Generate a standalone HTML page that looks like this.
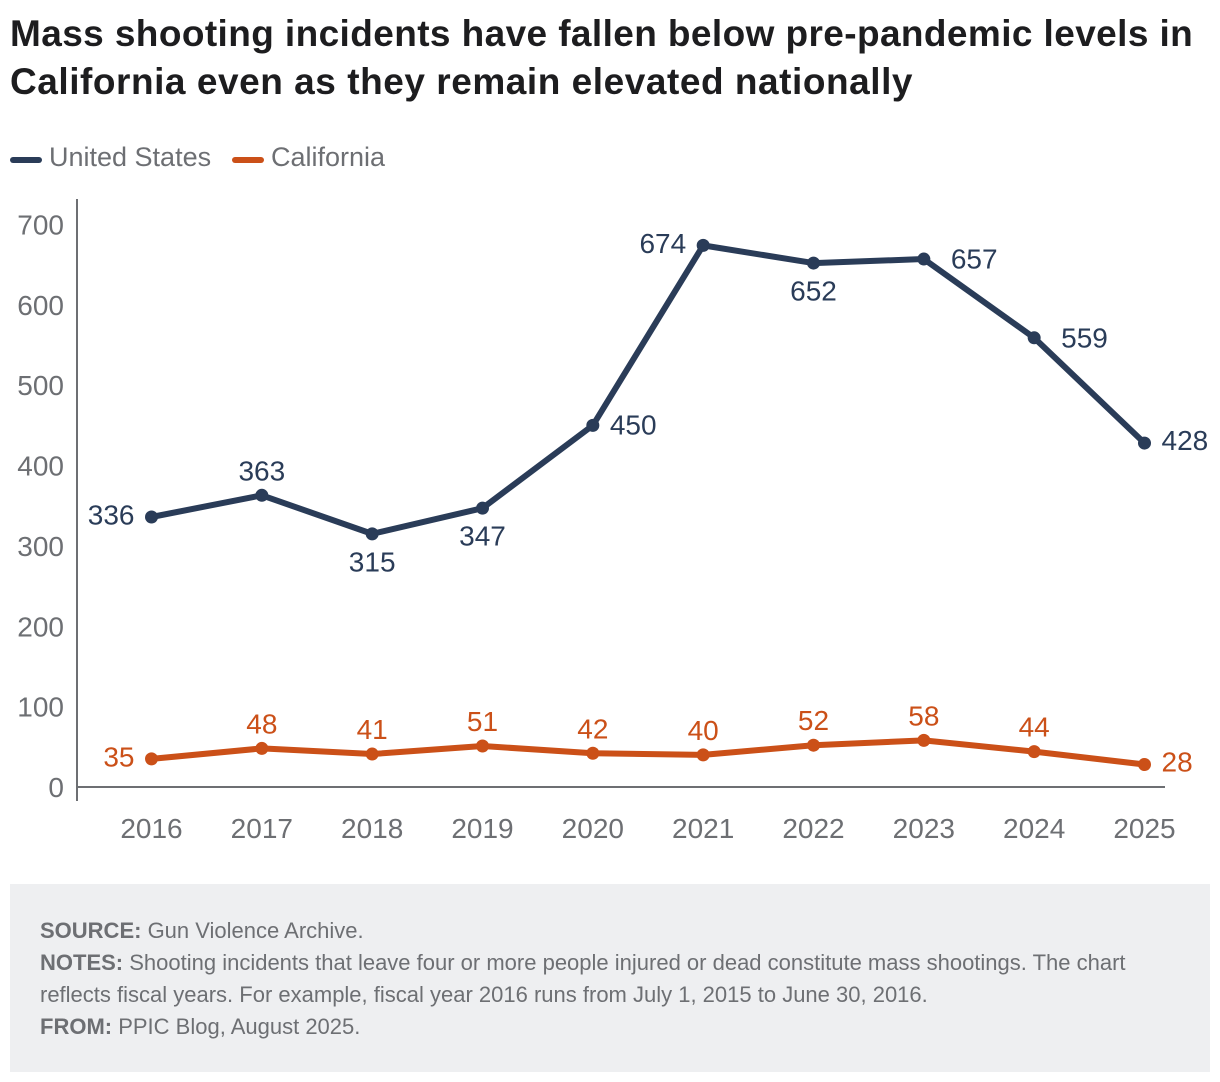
<!DOCTYPE html>
<html lang="en">
<head>
<meta charset="utf-8">
<title>Mass shooting incidents</title>
<style>
html,body{margin:0;padding:0;background:#fff;}
body{width:1220px;height:1082px;position:relative;overflow:hidden;font-family:"Liberation Sans",sans-serif;}
#chart-title{position:absolute;left:10px;top:10px;margin:0;font-size:37px;line-height:48px;letter-spacing:0.4px;font-weight:700;color:#1d1d1f;white-space:nowrap;}
#chart-title span{letter-spacing:0.54px;}
#chart{position:absolute;left:0;top:0;}
#notes{position:absolute;left:10px;top:884px;width:1200px;height:188px;background:#eeeff1;}
#notes p{position:absolute;left:30px;margin:0;font-size:22px;line-height:32px;color:#6d6f73;white-space:nowrap;}
</style>
</head>
<body>
<h1 id="chart-title">Mass shooting incidents have fallen below pre-pandemic levels in<br><span>California even as they remain elevated nationally</span></h1>
<svg id="chart" width="1220" height="880" viewBox="0 0 1220 880"></svg>
<div id="notes">
<p style="top:31px"><b>SOURCE:</b> Gun Violence Archive.</p>
<p style="top:63px"><b>NOTES:</b> Shooting incidents that leave four or more people injured or dead constitute mass shootings. The chart</p>
<p style="top:95px">reflects fiscal years. For example, fiscal year 2016 runs from July 1, 2015 to June 30, 2016.</p>
<p style="top:127px"><b>FROM:</b> PPIC Blog, August 2025.</p>
</div>
<script>
const years = [2016, 2017, 2018, 2019, 2020, 2021, 2022, 2023, 2024, 2025];
const usValues = [336, 363, 315, 347, 450, 674, 652, 657, 559, 428];
const caValues = [35, 48, 41, 51, 42, 40, 52, 58, 44, 28];
const yTicks = [0, 100, 200, 300, 400, 500, 600, 700];
const usLabelSides = ['left', 'above', 'below', 'below', 'right-mid', 'left', 'below', 'far-right', 'far-right', 'right'];
const caLabelSides = ['left', 'above', 'above', 'above', 'above', 'above', 'above', 'above', 'above', 'right'];

const svg = document.getElementById('chart');
const NS = 'http://www.w3.org/2000/svg';
const xScale = function (i) { return 151.5 + i * (1144.5 - 151.5) / (years.length - 1); };
const yScale = function (v) { return 787 - v * (787 - 224.5) / 700; };

function make(tag, attrs, parent) {
  const el = document.createElementNS(NS, tag);
  for (const k in attrs) el.setAttribute(k, attrs[k]);
  (parent || svg).appendChild(el);
  return el;
}
function addText(str, x, y, anchor, fill, size, group) {
  const t = make('text', { x: x, y: y, 'text-anchor': anchor, fill: fill, 'font-size': size, 'font-family': '"Liberation Sans", sans-serif' }, group);
  t.textContent = str;
  return t;
}

const AXIS = '#6d6f73';
const US = '#2a3c58';
const CA = '#cb5018';
const NUM_SIZE = 28;

// Legend
const legend = make('g', {});


const legendUsLine = make('line', { x1: 13, x2: 39, y1: 160, y2: 160, stroke: US, 'stroke-width': 6, 'stroke-linecap': 'round' }, legend);


const legendUsText = addText('United States', 49, 166, 'start', AXIS, 27, legend);


const legendCaLine = make('line', { x1: 235, x2: 261, y1: 160, y2: 160, stroke: CA, 'stroke-width': 6, 'stroke-linecap': 'round' }, legend);


const legendCaText = addText('California', 271, 166, 'start', AXIS, 27, legend);



// Axes
const yAxis = make('line', { x1: 77, x2: 77, y1: 199, y2: 801, stroke: AXIS, 'stroke-width': 2 });


const xAxis = make('line', { x1: 77, x2: 1165, y1: yScale(0), y2: yScale(0), stroke: AXIS, 'stroke-width': 2 });



yTicks.forEach(function (v) {
  const t = addText(String(v), 64, yScale(v) + 10, 'end', AXIS, NUM_SIZE);
  
  
});
years.forEach(function (yr, i) {
  const t = addText(String(yr), xScale(i), 838, 'middle', AXIS, NUM_SIZE);
  
  
});

function drawSeries(name, values, sides, color) {
  const g = make('g', {});
  
  
  const pts = values.map(function (v, i) { return xScale(i) + ',' + yScale(v); }).join(' ');
  const line = make('polyline', { points: pts, fill: 'none', stroke: color, 'stroke-width': 6, 'stroke-linejoin': 'round' }, g);
  
  
  values.forEach(function (v, i) {
    const cx = xScale(i), cy = yScale(v);
    const dot = make('circle', { cx: cx, cy: cy, r: 6.5, fill: color }, g);
    
    
    const side = sides[i];
    let lx = cx, ly = cy, anchor = 'middle';
    if (side === 'left') { lx = cx - 17; ly = cy + 7.5; anchor = 'end'; }
    else if (side === 'right') { lx = cx + 17; ly = cy + 7; anchor = 'start'; }
    else if (side === 'right-mid') { lx = cx + 17; ly = cy + 9; anchor = 'start'; }
    else if (side === 'far-right') { lx = cx + 27; ly = cy + 9.5; anchor = 'start'; }
    else if (side === 'above') { ly = cy - 15; }
    else { ly = cy + 37.5; }
    const label = addText(String(v), lx, ly, anchor, color, NUM_SIZE, g);
    
    
  });
}
drawSeries('united-states', usValues, usLabelSides, US);
drawSeries('california', caValues, caLabelSides, CA);
</script>
</body>
</html>
